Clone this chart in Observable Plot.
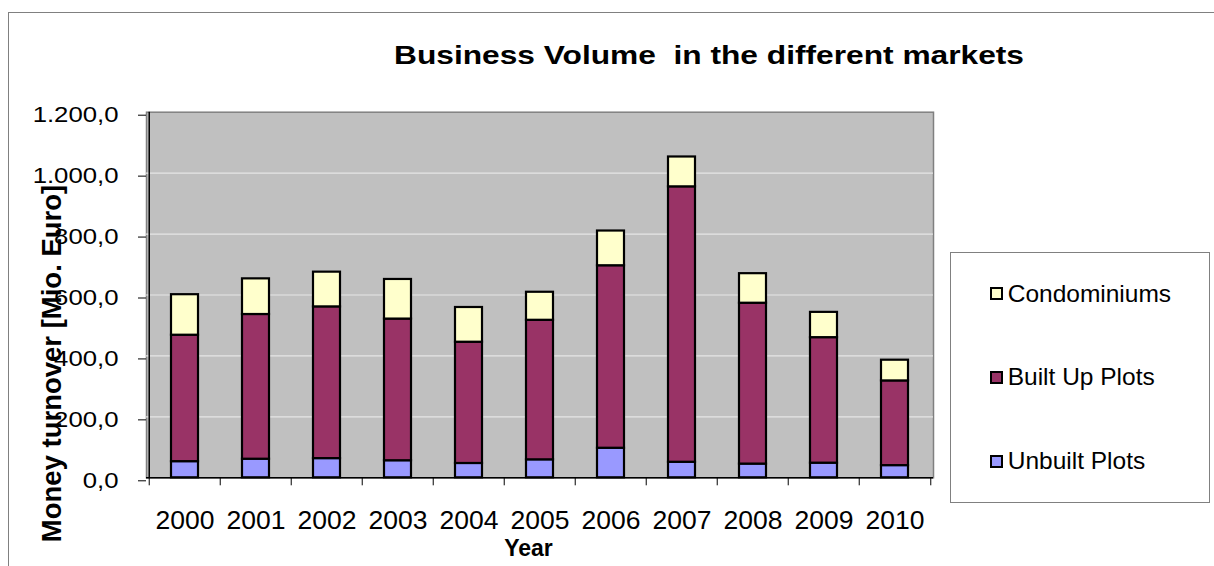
<!DOCTYPE html>
<html>
<head>
<meta charset="utf-8">
<script src="https://cdn.jsdelivr.net/npm/d3@7"></script>
<script src="https://cdn.jsdelivr.net/npm/@observablehq/plot@0.6"></script>
<style>
html, body { margin: 0; padding: 0; background: #fff; }
#wrap { position: relative; width: 1214px; height: 566px; overflow: hidden; background: #fff;
        font-family: "Liberation Sans", Arial, sans-serif; color: #000; }
#frame { position: absolute; left: 8px; top: 12px; width: 1400px; height: 800px;
         border-top: 1px solid #808080; border-left: 1px solid #808080; }
#chart { position: absolute; left: 0; top: 0; }
#title { position: absolute; left: 208.9px; width: 1000px; text-align: center; white-space: pre;
         font-weight: bold; font-size: 26.5px; line-height: 26.5px; top: 41.6px;
         transform: scaleX(1.196); transform-origin: 50% 50%; }
#legend { position: absolute; left: 950px; top: 252px; width: 258px; height: 249px;
          border: 1px solid #808080; background: #fff; }
.sw { position: absolute; width: 9px; height: 9px; border: 2px solid #000; }
.lt { position: absolute; font-size: 24.5px; line-height: 24.5px; white-space: pre; }
g[aria-label="y-axis tick label"] { font-size: 22px; }
g[aria-label="x-axis tick label"] { font-size: 26.5px; }
</style>
</head>
<body>
<div id="wrap">
  <div id="frame"></div>
  <div id="chart"></div>
  <div id="title"></div>
  <div id="legend"></div>
</div>
<script>
// ---- data ----
const years = [2000, 2001, 2002, 2003, 2004, 2005, 2006, 2007, 2008, 2009, 2010];
const unbuiltPlots = [53, 61, 63, 56, 47, 59, 97, 51, 45, 48, 40];
const builtUpPlots = [415, 475, 498, 465, 398, 458, 599, 904, 528, 412, 278];
const condominiums = [133, 117, 114, 130, 114, 92, 114, 98, 97, 83, 68];
const seriesNames = ["Unbuilt Plots", "Built Up Plots", "Condominiums"];
const seriesColors = ["#9999FF", "#993366", "#FFFFCC"];
const yTicks = [0, 200, 400, 600, 800, 1000, 1200];
const titleText = "Business Volume  in the different markets";
const xLabel = "Year";
const yLabel = "Money turnover [Mio. Euro]";
const legendOrder = ["Condominiums", "Built Up Plots", "Unbuilt Plots"];

const seriesValues = [unbuiltPlots, builtUpPlots, condominiums];
const rows = [];
seriesNames.forEach((s, si) => years.forEach((yr, i) => rows.push({year: yr, series: s, value: seriesValues[si][i]})));

const de = d3.formatLocale({decimal: ",", thousands: ".", grouping: [3], currency: ["", "€"]});
const fmt = de.format(",.1f");

// layout
const W = 1214, H = 566;
const mL = 146, mR = W - 933, mT = 111.7, mB = H - 477.3;
const step = (W - mL - mR) / years.length;

const plot = Plot.plot({
  width: W, height: H,
  marginLeft: mL, marginRight: mR, marginTop: mT, marginBottom: mB,
  style: {fontFamily: "'Liberation Sans', Arial, sans-serif", background: "transparent", color: "#000", overflow: "visible"},
  x: {type: "band", domain: years, paddingInner: 0.626, paddingOuter: 0.313},
  y: {domain: [0, 1200]},
  color: {domain: seriesNames, range: seriesColors},
  marks: [
    Plot.frame({fill: "#c0c0c0", stroke: "#808080", strokeWidth: 1.5}),
    Plot.ruleY(yTicks.slice(1, -1), {stroke: "#e6e6e6", strokeWidth: 1.2}),
    Plot.barY(rows, {x: "year", y: "value", fill: "series", stroke: "#000", strokeWidth: 2.2}),
    Plot.ruleY([0], {stroke: "#000", strokeWidth: 1.5}),
    Plot.ruleX([years[0]], {dx: -step / 2, stroke: "#000", strokeWidth: 1.5}),
    Plot.ruleX(years, {y1: 0, y2: 0, insetBottom: -8, dx: -step / 2, stroke: "#000"}),
    Plot.ruleX([years[years.length - 1]], {y1: 0, y2: 0, insetBottom: -8, dx: step / 2, stroke: "#000"}),
    Plot.axisY({ticks: yTicks, tickFormat: fmt, tickSize: 8, tickPadding: 20, fontSize: 22, dy: 3, label: null, stroke: "#000"}),
    Plot.axisX({tickSize: 0, tickPadding: 32.2, fontSize: 26.5, label: null, tickFormat: d => String(d)}),
    Plot.text([xLabel], {text: d => d, frameAnchor: "bottom", dx: 528 - (mL + W - mR) / 2, dy: 555 - (H - mB),
      lineAnchor: "bottom", fontSize: 23, fontWeight: "bold"}),
    Plot.text([yLabel], {text: d => d, frameAnchor: "left", rotate: -90, dx: 60 - mL, dy: 363 - (mT + H - mB) / 2,
      lineAnchor: "bottom", textAnchor: "middle", fontSize: 27.5, fontWeight: "bold"})
  ]
});
document.getElementById("chart").appendChild(plot);

// stretch y tick labels horizontally like the reference
plot.querySelectorAll('g[aria-label="y-axis tick label"] text').forEach(t => {
  const tr = t.getAttribute("transform");
  if (tr) t.setAttribute("transform", tr + " scale(1.17,1)");
  else {
    const x = +t.getAttribute("x") || 0, y = +t.getAttribute("y") || 0;
    t.removeAttribute("x"); t.removeAttribute("y");
    t.setAttribute("transform", `translate(${x},${y}) scale(1.17,1)`);
  }
});

document.getElementById("title").textContent = titleText;

// legend
const legend = document.getElementById("legend");
const lx0 = 950, ly0 = 252;
legendOrder.forEach((name, i) => {
  const cy = 293.7 + i * 83.65;
  const sw = document.createElement("div");
  sw.className = "sw";
  sw.style.left = (989.5 - lx0 - 1) + "px";
  sw.style.top = (cy - 6.5 - ly0 - 1) + "px";
  sw.style.background = seriesColors[seriesNames.indexOf(name)];
  legend.appendChild(sw);
  const lt = document.createElement("div");
  lt.className = "lt";
  lt.textContent = name;
  lt.style.left = (1007.7 - lx0 - 1) + "px";
  lt.style.top = (cy + 8.8 - 0.8465 * 24.5 - ly0 - 1) + "px";
  legend.appendChild(lt);
});
</script>
</body>
</html>
